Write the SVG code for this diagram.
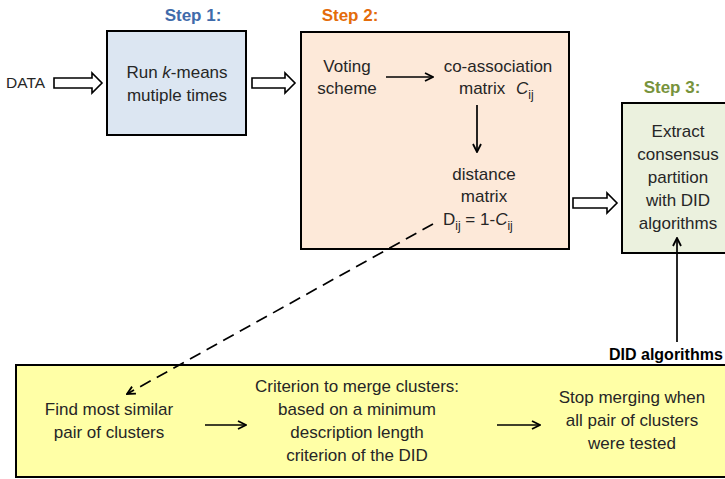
<svg xmlns="http://www.w3.org/2000/svg" width="725" height="479" viewBox="0 0 725 479">
  <style>
    text { font-family: "Liberation Sans", Arial, sans-serif; font-size: 17px; fill: #262626; }
    .c { text-anchor: middle; }
    .step { font-weight: bold; font-size: 17px; }
    .box { stroke: #000; stroke-width: 2; }
    .block { fill: #fff; stroke: #000; stroke-width: 1.6; stroke-linejoin: miter; }
    .line { fill: none; stroke: #000; stroke-width: 1.7; marker-end: url(#ah); }
    .sub { font-size: 12px; }
  </style>
  <defs>
    <marker id="ah" viewBox="0 0 10 10" refX="9" refY="5" markerWidth="10" markerHeight="10" orient="auto" markerUnits="userSpaceOnUse">
      <path d="M1,1 L9,5 L1,9" fill="none" stroke="#000" stroke-width="1.8"/>
    </marker>
  </defs>

  <!-- input label -->
  <g id="data">
    <text x="6" y="88" style="font-size:15.5px">DATA</text>
  </g>

  <!-- step 1 -->
  <g id="step1">
    <text class="step c" x="193" y="21" style="fill:#3F6BAA">Step 1:</text>
    <rect class="box" x="107" y="31" width="139" height="104" fill="#DCE6F2"/>
    <text class="c" x="177" y="78">Run <tspan font-style="italic">k</tspan>-means</text>
    <text class="c" x="177" y="101">mutiple times</text>
  </g>

  <!-- step 2 -->
  <g id="step2">
    <text class="step c" x="350" y="21" style="fill:#E46C0A">Step 2:</text>
    <rect class="box" x="301" y="32" width="268" height="217" fill="#FDE9D9"/>
    <text class="c" x="347" y="72">Voting</text>
    <text class="c" x="347" y="94">scheme</text>
    <text class="c" x="498" y="72">co-association</text>
    <text x="459" y="94">matrix<tspan x="516" font-style="italic">C</tspan><tspan class="sub" dy="5">ij</tspan></text>
    <text class="c" x="484" y="180">distance</text>
    <text class="c" x="484" y="202">matrix</text>
    <text x="443" y="225">D<tspan class="sub" dy="5">ij</tspan><tspan dy="-5"> = 1-</tspan><tspan font-style="italic">C</tspan><tspan class="sub" dy="5">ij</tspan></text>
  </g>

  <!-- step 3 -->
  <g id="step3">
    <text class="step c" x="672" y="93" style="fill:#77933C">Step 3:</text>
    <rect class="box" x="622" y="103" width="110" height="150" fill="#EBF1DE"/>
    <text class="c" x="678" y="137">Extract</text>
    <text class="c" x="678" y="160">consensus</text>
    <text class="c" x="678" y="183">partition</text>
    <text class="c" x="678" y="206">with DID</text>
    <text class="c" x="678" y="229">algorithms</text>
  </g>

  <!-- DID merging procedure -->
  <g id="did-algorithms">
    <text x="609" y="360" style="font-weight:bold;font-size:16px;fill:#000">DID algorithms</text>
    <rect class="box" x="16" y="365" width="720" height="112" fill="#FFFFA6"/>
    <text class="c" x="109" y="415">Find most similar</text>
    <text class="c" x="109" y="438">pair of clusters</text>
    <text class="c" x="357" y="392">Criterion to merge clusters:</text>
    <text class="c" x="357" y="415">based on a minimum</text>
    <text class="c" x="357" y="438">description length</text>
    <text class="c" x="357" y="461">criterion of the DID</text>
    <text class="c" x="632" y="403">Stop merging when</text>
    <text class="c" x="632" y="426">all pair of clusters</text>
    <text class="c" x="632" y="449">were tested</text>
  </g>

  <!-- connectors -->
  <g id="connectors">
    <path class="block" d="M54,78 H92 V73 L102,83 L92,93 V88 H54 Z"/>
    <path class="block" d="M252,78 H285 V73 L295,83 L285,93 V88 H252 Z"/>
    <path class="block" d="M573,198 H607 V193 L617,203 L607,213 V208 H573 Z"/>
    <line class="line" x1="386" y1="77" x2="433" y2="77"/>
    <line class="line" x1="477" y1="105" x2="477" y2="152"/>
    <line class="line" x1="677" y1="342" x2="677" y2="238"/>
    <line class="line" x1="205" y1="425" x2="246" y2="425"/>
    <line class="line" x1="497" y1="425" x2="540" y2="425"/>
    <line class="line" x1="433" y1="224" x2="127" y2="394" style="stroke-dasharray:12 7"/>
  </g>
</svg>
